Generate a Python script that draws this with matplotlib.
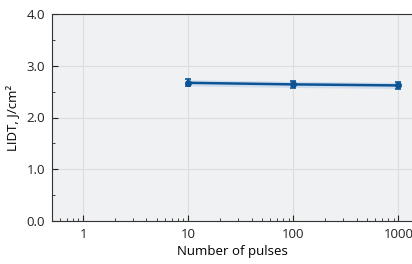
import matplotlib
matplotlib.use("Agg")
import numpy as np
import matplotlib.pyplot as plt
from matplotlib.ticker import LogLocator, NullFormatter, FixedLocator, MultipleLocator

plt.rcParams['font.family'] = ['Open Sans', 'DejaVu Sans']

pulses = [10, 100, 1000]
lidt = [2.67, 2.64, 2.62]
err = [0.07, 0.07, 0.07]
band = [0.06, 0.06, 0.06]
xticks = [1, 10, 100, 1000]
yticks = [0.0, 1.0, 2.0, 3.0, 4.0]

fig = plt.figure(figsize=(4.12, 2.64), dpi=100)
ax = fig.add_axes([52/412, 43/264, 1 - 52/412 + 0.001, (221-14)/264])
ax.set_facecolor('#f0f1f3')

lo = np.array(lidt) - np.array(band)
hi = np.array(lidt) + np.array(band)
ax.fill_between(pulses, lo, hi, color='#c9d8ec', alpha=0.8, lw=0)
ax.errorbar(pulses, lidt, yerr=err, color='#0b5394', lw=1.8, marker='o', ms=4,
            capsize=2.5, elinewidth=1.2, capthick=1.2)

ax.set_xscale('log')
ax.set_xlim(0.505, 1360)
ax.set_ylim(0, 4)
ax.xaxis.set_major_locator(FixedLocator(xticks))
ax.set_xticklabels([str(t) for t in xticks])
ax.xaxis.set_minor_locator(LogLocator(base=10, subs=np.arange(2, 10)))
ax.xaxis.set_minor_formatter(NullFormatter())
ax.set_yticks(yticks)
ax.set_yticklabels(['%.1f' % t for t in yticks])
ax.yaxis.set_minor_locator(MultipleLocator(0.5))

ax.grid(True, which='major', color='#dcdde0', lw=0.8)
ax.set_axisbelow(True)
ax.tick_params(which='both', direction='in', top=False, right=False, labelsize=9.5, colors='#222222')
ax.tick_params(which='major', length=4, width=0.8, pad=5)
ax.tick_params(which='minor', length=2, width=0.6)
for s in ax.spines.values():
    s.set_color('#333333')
    s.set_linewidth(0.8)
ax.spines['right'].set_visible(False)

ax.set_xlabel('Number of pulses', fontsize=9.5, labelpad=3)
ax.set_ylabel('LIDT, J/cm²', fontsize=9.5, labelpad=5)

fig.savefig('out.png', dpi=100)
